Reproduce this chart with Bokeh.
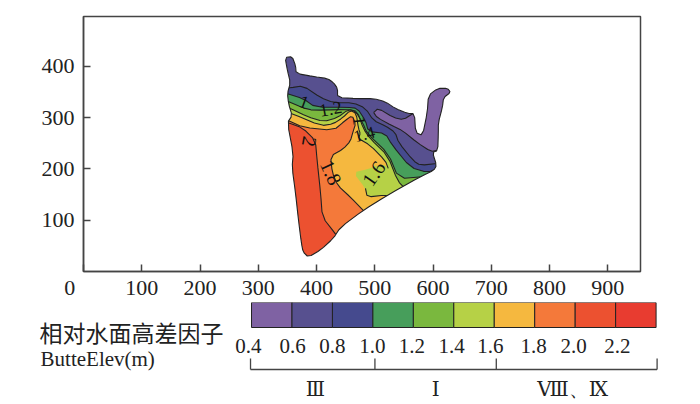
from bokeh.plotting import figure
from bokeh.layouts import column
from bokeh.models import Range1d, FixedTicker
from bokeh.core.properties import value
from bokeh.embed import file_html
from bokeh.resources import INLINE
import math

SERIF = "Liberation Serif"
INK = "#222222"
FRAME = "#444444"

# Band colours, low to high
band_edges = [0.4, 0.6, 0.8, 1.0, 1.2, 1.4, 1.6, 1.8, 2.0, 2.2, 2.4]
band_colors = ["#7f62a3", "#57508f", "#454a8e", "#479e5b", "#7ab83e",
               "#b6d146", "#f5b83f", "#f4793a", "#ec5130", "#e83c30"]
tick_labels = ["0.4", "0.6", "0.8", "1.0", "1.2", "1.4", "1.6", "1.8", "2.0", "2.2"]
tick_label_x = [0.385, 0.603, 0.80, 0.998, 1.193, 1.389, 1.581, 1.794, 1.992, 2.209]
bracket_x = [0.395, 1.01, 1.61, 2.405]
roman_labels = ["Ⅲ", "Ⅰ", "Ⅷ、Ⅸ"]
roman_x = [0.716, 1.31, 1.987]

# Study-area outline (x, y)
outline_x = [346, 358, 364, 365, 395, 419, 429, 436, 436, 470, 498, 518, 535, 556, 568, 570, 582, 590, 592, 608,
             625, 630, 618, 616, 609, 609, 608, 599, 606, 601, 582, 522, 480, 441, 429, 407, 386, 377, 374, 369,
             364, 358, 360, 350, 358, 352, 350, 355, 350]
outline_y = [417, 419, 401, 386, 380, 376, 368, 357, 339, 337, 337, 331, 318, 308, 308, 271, 265, 310, 343, 357,
             357, 349, 339, 320, 290, 269, 236, 232, 207, 197, 187, 149, 119, 86, 65, 42, 28, 38, 55, 100,
             152, 203, 230, 290, 304, 327, 347, 368, 392]

# Contours, west to east
c06_x = [498, 506, 532, 549, 566]
c06_y = [310, 318, 300, 296, 308]
c06b_x = [498, 504, 530, 547, 573, 596, 608]
c06b_y = [310, 300, 284, 275, 251, 234, 236]
c08_x = [350, 355, 377, 407, 429, 463, 484, 498, 518, 535, 541, 566, 578, 610]
c08_y = [358, 358, 362, 339, 329, 329, 318, 294, 284, 271, 251, 216, 207, 211]
c10_x = [348, 377, 398, 453, 470, 484, 489, 518, 530, 561, 590, 610]
c10_y = [347, 337, 320, 320, 318, 294, 273, 269, 246, 203, 193, 201]
c12_x = [348, 377, 394, 453, 467, 479, 487, 523, 541, 586]
c12_y = [333, 319, 314, 316, 312, 290, 269, 230, 181, 185]
c14_x = [350, 355, 384, 412, 436, 455, 470, 480, 492, 522, 539, 553]
c14_y = [318, 318, 302, 292, 300, 316, 312, 279, 259, 226, 177, 160]
c16_x = [350, 358, 407, 429, 445, 458, 468, 472, 475, 472, 492, 518, 523]
c16_y = [308, 308, 284, 288, 300, 314, 308, 279, 269, 259, 246, 216, 201]
c16_in_x = [504, 487, 463, 484, 487, 518, 526]
c16_in_y = [207, 199, 193, 162, 145, 149, 145]
c18_x = [348, 350, 377, 429, 449, 461, 467, 463, 458, 446, 424, 427, 436, 458, 481]
c18_y = [295, 295, 281, 275, 294, 304, 288, 274, 254, 239, 225, 193, 168, 145, 118]
c20_x = [348, 352, 377, 398, 401, 407, 410, 432, 436]
c20_y = [290, 290, 279, 255, 216, 152, 106, 74, 66]

# Contour labels
lab_text = ["1", "1.2", "1", "1.4", "2", "1.8", "1.6"]
lab_x = [379, 424, 474, 482, 388, 425, 498]
lab_y = [331, 318, 294, 267, 253, 193, 191]
lab_deg = [-20, 10, -85, 15, -100, -65, 55]
lab_size = ["18px", "18px", "18px", "17px", "20px", "20px", "20px"]

# Far corners that close each band behind the white surround
far_w, far_e, far_s, far_n = 300, 700, 10, 450


def smooth(xs, ys, closed=False):
    """Round polyline corners for drawing, as the contouring package did."""
    r = 0.22
    pts = list(zip(xs, ys))
    out = []
    n = len(pts)
    for i in range(n if closed else n - 1):
        a, b = pts[i], pts[(i + 1) % n]
        out.append((a[0] + r * (b[0] - a[0]), a[1] + r * (b[1] - a[1])))
        out.append((b[0] - r * (b[0] - a[0]), b[1] - r * (b[1] - a[1])))
    if not closed:
        out = [pts[0]] + out + [pts[-1]]
    return [o[0] for o in out], [o[1] for o in out]


ox, oy = smooth(outline_x, outline_y, closed=True)

p = figure(width=692, height=302, output_backend="svg", toolbar_location=None,
           x_range=Range1d(0, 956), y_range=Range1d(0, 497),
           min_border_left=83, min_border_right=52, min_border_top=16, min_border_bottom=31)
p.frame_align = False
p.grid.visible = False
p.outline_line_color = FRAME
p.outline_line_width = 1.5
p.background_fill_color = "white"
for ax, ticks in ((p.xaxis, list(range(0, 901, 100))), (p.yaxis, [100, 200, 300, 400])):
    ax.ticker = FixedTicker(ticks=ticks)
    ax.major_tick_in = 7
    ax.major_tick_out = 0
    ax.minor_tick_line_color = None
    ax.axis_line_color = FRAME
    ax.axis_line_width = 1.5
    ax.major_tick_line_color = FRAME
    ax.major_tick_line_width = 1.5
    ax.major_label_text_font = SERIF
    ax.major_label_text_font_size = "22px"
    ax.major_label_text_color = INK
p.xaxis.major_label_standoff = 3
p.yaxis.major_label_standoff = 9
# The 0 sits left of the corner: trailing no-break spaces push the centred label over
p.xaxis.major_label_overrides = {0: "0" + "\u00a0" * 5}

# Base band and purple arm
p.patch(ox, oy, fill_color=band_colors[1], line_color=None)
s06 = smooth(c06_x, c06_y)
s06b = smooth(c06b_x, c06b_y)
p.patch(s06[0] + [575, far_e, far_e] + s06b[0][::-1][:-1], s06[1] + [360, 370, 230] + s06b[1][::-1][:-1],
        fill_color=band_colors[0], line_color=None)

# Higher bands, painted from low to high
bands = [(c08_x, c08_y, 2, 680, 120), (c10_x, c10_y, 3, 680, 120), (c12_x, c12_y, 4, 640, 120),
         (c14_x, c14_y, 5, 620, 100), (c16_x + [518, 504] + c16_in_x[1:], c16_y + [207, 207] + c16_in_y[1:], 6, 560, 100),
         (c18_x, c18_y, 7, 520, 100), (c20_x, c20_y, 8, 470, 50)]
for bx, by, idx, ex, ey in bands:
    sx, sy = smooth(bx, by)
    p.patch(sx + [ex, ex, far_w, far_w], sy + [ey, far_s, far_s, by[0]],
            fill_color=band_colors[idx], line_color=None)

# Contour lines
for lx, ly in ((c06_x, c06_y), (c06b_x, c06b_y), (c08_x, c08_y), (c10_x, c10_y), (c12_x, c12_y), (c14_x, c14_y),
               (c16_x, c16_y), (c16_in_x[3:], c16_in_y[3:]), (c18_x, c18_y), (c20_x, c20_y)):
    sx, sy = smooth(lx, ly)
    p.line(sx, sy, line_color=INK, line_width=1.1)

# White surround: everything outside the study area
p.multi_polygons(xs=[[[[far_w - 10, far_e + 10, far_e + 10, far_w - 10], ox]]],
                 ys=[[[[far_s - 5, far_s - 5, far_n, far_n], oy]]],
                 fill_color="white", line_color=None)
p.patch(ox, oy, fill_color=None, line_color=INK, line_width=1.1)

for t, x, y, d, s in zip(lab_text, lab_x, lab_y, lab_deg, lab_size):
    p.text([x], [y], text=[t], angle=[math.radians(d)], text_font=value(SERIF), text_font_size=value(s),
           text_color="#111111", text_align="center", text_baseline="middle")

# Legend strip
q = figure(width=692, height=100, output_backend="svg", toolbar_location=None,
           x_range=Range1d(-0.841, 2.58), y_range=Range1d(100, 0),
           min_border=0, min_border_left=0, min_border_right=0, min_border_top=0, min_border_bottom=0)
q.frame_align = False
q.axis.visible = False
q.grid.visible = False
q.outline_line_color = None
q.quad(left=band_edges[:-1], right=band_edges[1:], top=0, bottom=25, fill_color=band_colors, line_color=INK, line_width=1)
q.text(tick_label_x, [43] * len(tick_labels), text=tick_labels, text_font=value(SERIF), text_font_size=value("21px"),
       text_color=INK, text_align="center", text_baseline="middle")
q.text([-0.648], [29], text=["相对水面高差因子"], text_font=value("Noto Sans CJK SC"), text_font_size=value("23px"),
       text_color=INK, text_baseline="middle")
q.text([-0.643], [56], text=["ButteElev(m)"], text_font=value(SERIF), text_font_size=value("21px"),
       text_color=INK, text_baseline="middle")
q.line([bracket_x[0], bracket_x[-1]], [67, 67], line_color=FRAME, line_width=1.3)
q.segment(bracket_x, [56] * 4, bracket_x, [67] * 4, line_color=FRAME, line_width=1.3)
q.text(roman_x, [86] * 3, text=roman_labels, text_font=value("DejaVu Serif"), text_font_size=value("20px"),
       text_color=INK, text_align="center", text_baseline="middle")

page = column(p, q, spacing=0)
open("out.html", "w").write(file_html(page, INLINE))
